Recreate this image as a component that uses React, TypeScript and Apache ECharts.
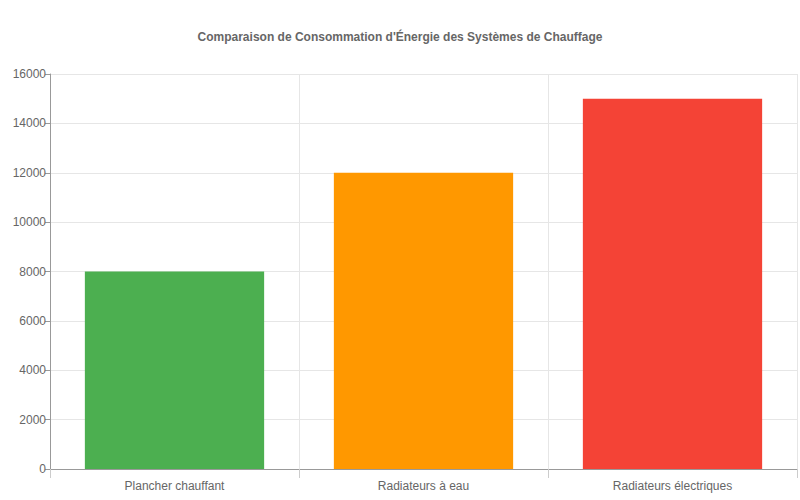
import React, { useEffect, useRef } from "react";
import * as echarts from "echarts";

const categories = ["Plancher chauffant", "Radiateurs à eau", "Radiateurs électriques"];
const values = [8000, 12000, 15000];
const colors = ["#4CAF50", "#FF9800", "#F44336"];
const titleText = "Comparaison de Consommation d'Énergie des Systèmes de Chauffage";

export default function App() {
  const ref = useRef<HTMLDivElement>(null);
  useEffect(() => {
    const chart = echarts.init(ref.current!, undefined, { renderer: "svg" });
    chart.setOption({
      animation: false,
      textStyle: { fontFamily: "Liberation Sans, Arial, sans-serif" },
      title: {
        text: titleText,
        left: "center",
        top: 26,
        textStyle: { fontSize: 12, fontWeight: "bold", color: "#666", fontFamily: "Liberation Sans, Arial, sans-serif" },
      },
      grid: { left: 50, right: 3, top: 74, bottom: 31, containLabel: false },
      xAxis: {
        type: "category",
        data: categories,
        axisLine: { show: true, lineStyle: { color: "#999" } },
        axisTick: { show: true, length: 9, lineStyle: { color: "#ccc" } },
        axisLabel: { color: "#666", fontSize: 12, margin: 11 },
        splitLine: { show: true, lineStyle: { color: "#e6e6e6" } },
      },
      yAxis: {
        type: "value",
        min: 0,
        max: 16000,
        interval: 2000,
        axisLine: { show: true, lineStyle: { color: "#999" } },
        axisTick: { show: true, length: 5, lineStyle: { color: "#999" } },
        axisLabel: { color: "#666", fontSize: 12, margin: 4, formatter: (v: number) => String(v) },
        splitLine: { show: true, lineStyle: { color: "#e6e6e6" } },
      },
      series: [
        {
          type: "bar",
          barWidth: "72%",
          data: values.map((v, i) => ({ value: v, itemStyle: { color: colors[i] } })),
        },
      ],
    });
    return () => chart.dispose();
  }, []);
  return <div ref={ref} style={{ position: "absolute", left: 0, top: 0, width: 800, height: 500 }} />;
}
